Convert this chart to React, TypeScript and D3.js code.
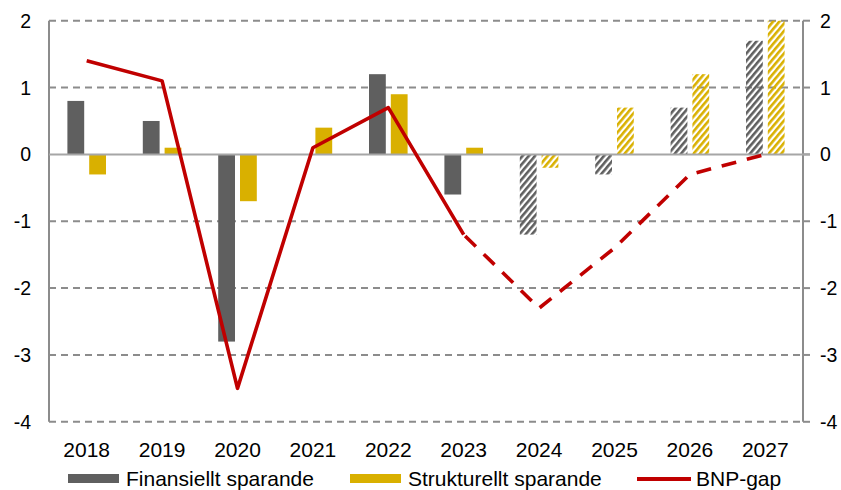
import React from "react";
import * as d3 from "d3";

const years = ["2018", "2019", "2020", "2021", "2022", "2023", "2024", "2025", "2026", "2027"];
const finansiellt = [0.8, 0.5, -2.8, 0, 1.2, -0.6, -1.2, -0.3, 0.7, 1.7];
const strukturellt = [-0.3, 0.1, -0.7, 0.4, 0.9, 0.1, -0.2, 0.7, 1.2, 2.0];
const bnpGap = [1.4, 1.1, -3.5, 0.1, 0.7, -1.2, -2.3, -1.4, -0.3, 0.0];
// first year shown as forecast (hatched bars), and last outcome year (line turns dashed)
const forecastFrom = "2024";
const lastOutcome = "2023";
const yTicks = [2, 1, 0, -1, -2, -3, -4];

const W = 841;
const H = 490;
const plotLeft = 49;
const plotRight = 803;
const plotTop = 20.7;
const plotBottom = 421.8;

const GRAY = "#5f5f5f";
const GOLD = "#d9b000";
const RED = "#c00000";
const AXIS = "#8c8c8c";
const FONT = "'Liberation Sans', Arial, sans-serif";

export default function App() {
  const x = d3.scaleBand<string>().domain(years).range([plotLeft, plotRight]);
  const y = d3.scaleLinear().domain([-4, 2]).range([plotBottom, plotTop]);
  const barW = 16.8;
  const gap = 5;
  const cx = (yr: string) => (x(yr) as number) + x.bandwidth() / 2;
  const fIdx = years.indexOf(forecastFrom);
  const lIdx = years.indexOf(lastOutcome);

  const pts = bnpGap.map((v, i) => [cx(years[i]), y(v)] as [number, number]);
  const lineGen = d3.line<[number, number]>();
  const solidPath = lineGen(pts.slice(0, lIdx + 1)) || "";
  const dashedPath = lineGen(pts.slice(lIdx)) || "";

  const bar = (v: number, yr: string, i: number, series: "f" | "s") => {
    const left = series === "f" ? cx(yr) - gap / 2 - barW : cx(yr) + gap / 2;
    const y0 = y(0);
    const y1 = y(v);
    const top = Math.min(y0, y1);
    const h = Math.abs(y1 - y0);
    if (h === 0) return null;
    const hatched = i >= fIdx;
    const color = series === "f" ? GRAY : GOLD;
    const fill = hatched ? `url(#hatch-${series})` : color;
    return <rect key={series + yr} x={left} y={top} width={barW} height={h} fill={fill} />;
  };

  return (
    <svg width={W} height={H} style={{ display: "block", position: "absolute", left: 0, top: 0 }}>
      <defs>
        <pattern id="hatch-f" patternUnits="userSpaceOnUse" width="4.8" height="4.8" patternTransform="rotate(40)">
          <rect x="0" y="0" width="2.6" height="4.8" fill={GRAY} />
        </pattern>
        <pattern id="hatch-s" patternUnits="userSpaceOnUse" width="4.8" height="4.8" patternTransform="rotate(40)">
          <rect x="0" y="0" width="2.6" height="4.8" fill={GOLD} />
        </pattern>
      </defs>
      <rect x={0} y={0} width={W} height={H} fill="#fff" />

      {/* gridlines */}
      {yTicks
        .filter((t) => t !== 0)
        .map((t) => (
          <line
            key={"g" + t}
            x1={plotLeft}
            x2={plotRight}
            y1={y(t)}
            y2={y(t)}
            stroke={AXIS}
            strokeWidth={2}
            strokeDasharray="7,5"
          />
        ))}

      {/* axes */}
      <line x1={plotLeft} x2={plotLeft} y1={y(2)} y2={y(-4)} stroke={AXIS} strokeWidth={2} />
      <line x1={plotRight} x2={plotRight} y1={y(2)} y2={y(-4)} stroke={AXIS} strokeWidth={2} />
      {yTicks.map((t) => (
        <line key={"t" + t} x1={plotRight} x2={plotRight + 7} y1={y(t)} y2={y(t)} stroke={AXIS} strokeWidth={2} />
      ))}

      {/* bars */}
      {years.map((yr, i) => bar(finansiellt[i], yr, i, "f"))}
      {years.map((yr, i) => bar(strukturellt[i], yr, i, "s"))}

      {/* zero line */}
      <line x1={plotLeft} x2={plotRight + 7} y1={y(0)} y2={y(0)} stroke="#a6a6a6" strokeWidth={2} />

      {/* BNP-gap */}
      <path d={solidPath} fill="none" stroke={RED} strokeWidth={3.6} strokeLinejoin="round" />
      <path
        d={dashedPath}
        fill="none"
        stroke={RED}
        strokeWidth={3.6}
        strokeDasharray="15,11"
        strokeDashoffset={-2}
        strokeLinejoin="round"
      />

      {/* y tick labels */}
      {yTicks.map((t) => (
        <text key={"l" + t} x={31} y={y(t)} dy="0.36em" textAnchor="end" fontFamily={FONT} fontSize={19.5} fill="#000">
          {t}
        </text>
      ))}
      {yTicks.map((t) => (
        <text key={"r" + t} x={820} y={y(t)} dy="0.36em" textAnchor="start" fontFamily={FONT} fontSize={19.5} fill="#000">
          {t}
        </text>
      ))}

      {/* category labels */}
      {years.map((yr) => (
        <text key={"x" + yr} x={cx(yr)} y={457} textAnchor="middle" fontFamily={FONT} fontSize={21} fill="#000">
          {yr}
        </text>
      ))}

      {/* legend */}
      <rect x={68} y={474} width={51} height={9} fill={GRAY} />
      <text x={126} y={486} fontFamily={FONT} fontSize={21} fill="#000">
        Finansiellt sparande
      </text>
      <rect x={350} y={474} width={51} height={9} fill={GOLD} />
      <text x={408} y={486} fontFamily={FONT} fontSize={21} fill="#000">
        Strukturellt sparande
      </text>
      <line x1={637} x2={691} y1={479} y2={479} stroke={RED} strokeWidth={4} />
      <text x={696} y={486} fontFamily={FONT} fontSize={21} fill="#000">
        BNP-gap
      </text>
    </svg>
  );
}
